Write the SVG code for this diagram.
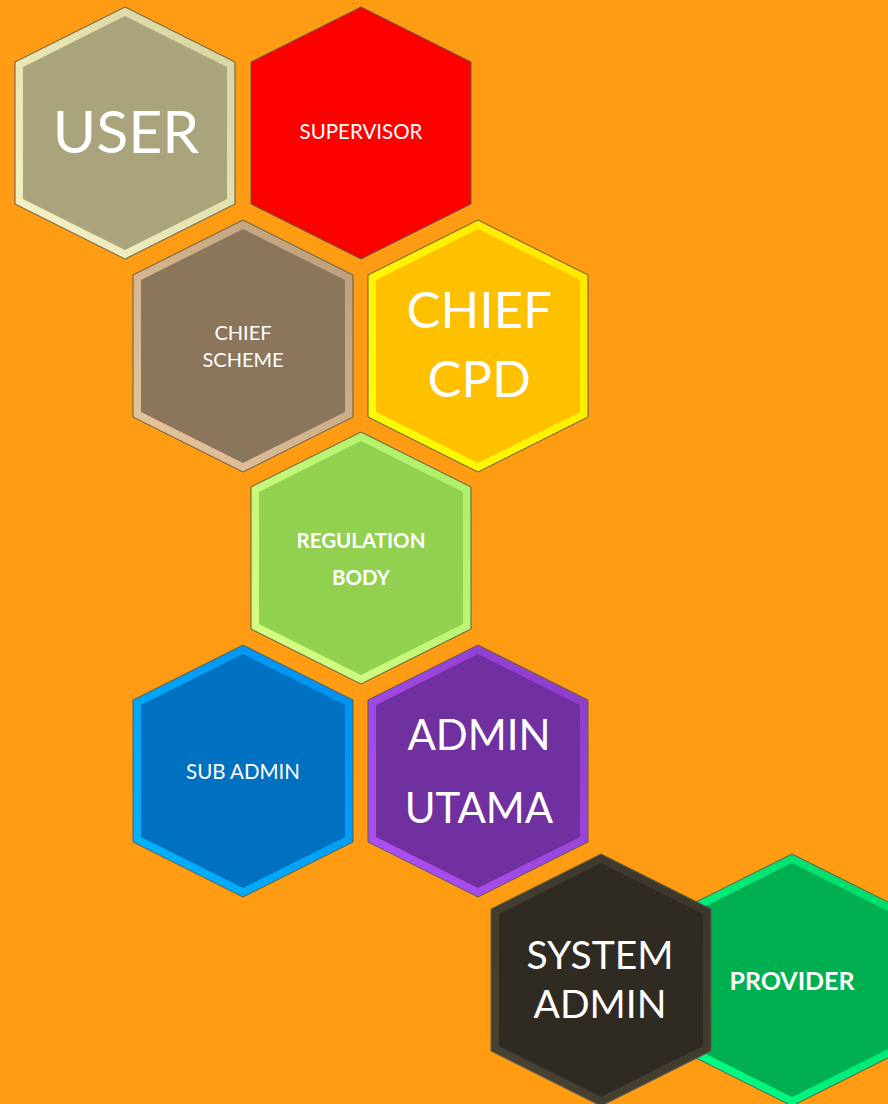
<svg xmlns="http://www.w3.org/2000/svg" xmlns:xlink="http://www.w3.org/1999/xlink" width="888" height="1104" viewBox="0 0 888 1104">
<style>
.o{stroke:#5C5C44;stroke-width:1}
.t{font-family:Lato,"Open Sans","Liberation Sans",sans-serif;fill:#FFFFFF;text-anchor:middle}
.b{font-weight:bold}
</style>
<defs>
<polygon id="hexO" points="110,0 220,55 220,197 110,252 0,197 0,55"/>
<polygon id="hexI" points="110,9 212,60 212,192 110,243 8,192 8,60"/>
<linearGradient id="gUser" x1="1" y1="0" x2="0" y2="1"><stop offset="0" stop-color="#D6D29E"/><stop offset="1" stop-color="#F6F3C6"/></linearGradient>
<linearGradient id="gScheme" x1="1" y1="0" x2="0" y2="1"><stop offset="0" stop-color="#B99B78"/><stop offset="1" stop-color="#E8C8A0"/></linearGradient>
<linearGradient id="gCpd" x1="1" y1="0" x2="0" y2="1"><stop offset="0" stop-color="#FFE600"/><stop offset="1" stop-color="#FFFF00"/></linearGradient>
<linearGradient id="gReg" x1="1" y1="0" x2="0" y2="1"><stop offset="0" stop-color="#A8EE66"/><stop offset="1" stop-color="#DAFF88"/></linearGradient>
<linearGradient id="gSub" x1="1" y1="0" x2="0" y2="1"><stop offset="0" stop-color="#008EEE"/><stop offset="1" stop-color="#00B6FF"/></linearGradient>
<linearGradient id="gAdm" x1="1" y1="0" x2="0" y2="1"><stop offset="0" stop-color="#8A3CC6"/><stop offset="1" stop-color="#B052F8"/></linearGradient>
<linearGradient id="gSys" x1="1" y1="0" x2="0" y2="1"><stop offset="0" stop-color="#3C362A"/><stop offset="1" stop-color="#4A4436"/></linearGradient>
<linearGradient id="gProv" x1="1" y1="0" x2="0" y2="1"><stop offset="0" stop-color="#00D868"/><stop offset="1" stop-color="#00FF8A"/></linearGradient>
</defs>
<rect width="888" height="1104" fill="#FF9C14"/>
<g id="connectors"/>
<g id="user">
<use href="#hexO" x="15" y="7" class="o" fill="url(#gUser)"/>
<use href="#hexI" x="15" y="7" fill="#A9A47B"/>
<text class="t" x="126" y="153" font-size="59">USER</text>
</g>
<g id="supervisor">
<use href="#hexO" x="251" y="7" class="o" fill="#FF0000"/>
<text class="t" x="361" y="139" font-size="20.5">SUPERVISOR</text>
</g>
<g id="chief-scheme">
<use href="#hexO" x="133" y="220" class="o" fill="url(#gScheme)"/>
<use href="#hexI" x="133" y="220" fill="#8B765C"/>
<text class="t" x="243" y="340" font-size="20">CHIEF</text>
<text class="t" x="243" y="367" font-size="20">SCHEME</text>
</g>
<g id="chief-cpd">
<use href="#hexO" x="368" y="220" class="o" fill="url(#gCpd)"/>
<use href="#hexI" x="368" y="220" fill="#FFC000"/>
<text class="t" x="479" y="328" font-size="51">CHIEF</text>
<text class="t" x="479" y="397" font-size="51">CPD</text>
</g>
<g id="regulation-body">
<use href="#hexO" x="251" y="432" class="o" fill="url(#gReg)"/>
<use href="#hexI" x="251" y="432" fill="#92D050"/>
<text class="t b" x="361" y="548" font-size="20.5">REGULATION</text>
<text class="t b" x="361" y="585" font-size="20.5">BODY</text>
</g>
<g id="sub-admin">
<use href="#hexO" x="133" y="645" class="o" fill="url(#gSub)"/>
<use href="#hexI" x="133" y="645" fill="#0070C0"/>
<text class="t" x="243" y="779" font-size="20.5">SUB ADMIN</text>
</g>
<g id="admin-utama">
<use href="#hexO" x="368" y="645" class="o" fill="url(#gAdm)"/>
<use href="#hexI" x="368" y="645" fill="#7030A0"/>
<text class="t" x="479" y="750" font-size="42">ADMIN</text>
<text class="t" x="479" y="823" font-size="42">UTAMA</text>
</g>
<g id="provider">
<use href="#hexO" x="682" y="854" class="o" fill="url(#gProv)"/>
<use href="#hexI" x="682" y="854" fill="#00AF50"/>
<text class="t b" x="792" y="990" font-size="25">PROVIDER</text>
</g>
<g id="system-admin">
<use href="#hexO" x="491" y="854" class="o" fill="url(#gSys)"/>
<use href="#hexI" x="491" y="854" fill="#302B22"/>
<text class="t" x="600" y="969" font-size="39">SYSTEM</text>
<text class="t" x="600" y="1018" font-size="39">ADMIN</text>
</g>
</svg>
